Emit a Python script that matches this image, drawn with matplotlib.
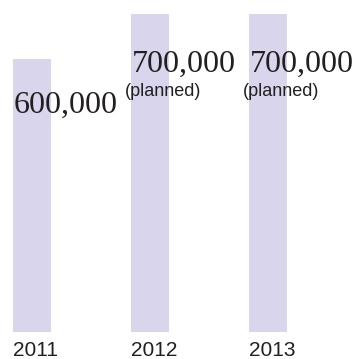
import matplotlib
matplotlib.use("Agg")
import matplotlib.pyplot as plt

years = ["2011", "2012", "2013"]
values = [600000, 700000, 700000]
value_labels = ["600,000", "700,000", "700,000"]
notes = ["", "(planned)", "(planned)"]

bar_color = "#d8d5ec"
text_color = "#231f20"

fig = plt.figure(figsize=(3.61, 3.59), dpi=100)
ax = fig.add_axes([0, 0, 1, 1])

w = 38 / 118
x = list(range(len(years)))
ax.bar(x, values, width=w, color=bar_color)

ax.set_xlim(-32 / 118, (361 - 32) / 118)
ax.set_ylim(-27 / 318 * 700000, 332 / 318 * 700000)
ax.axis("off")

for i in x:
    ax.annotate(years[i], xy=(i - w / 2, 0), xytext=(0, -24),
                textcoords="offset pixels", ha="left", va="baseline",
                fontsize=15, family=["Liberation Sans", "DejaVu Sans"],
                color=text_color)
    ax.annotate(value_labels[i], xy=(i - w / 2, values[i]),
                xytext=(1, -53 if i == 0 else -58),
                textcoords="offset pixels", ha="left", va="baseline",
                fontsize=23, family=["Liberation Serif", "DejaVu Serif"],
                color=text_color)
    if notes[i]:
        ax.annotate(notes[i], xy=(i - w / 2, values[i]), xytext=(-6, -82),
                    textcoords="offset pixels", ha="left", va="baseline",
                    fontsize=13, family=["Liberation Sans", "DejaVu Sans"],
                    color=text_color)

fig.savefig("out.png", dpi=100)
